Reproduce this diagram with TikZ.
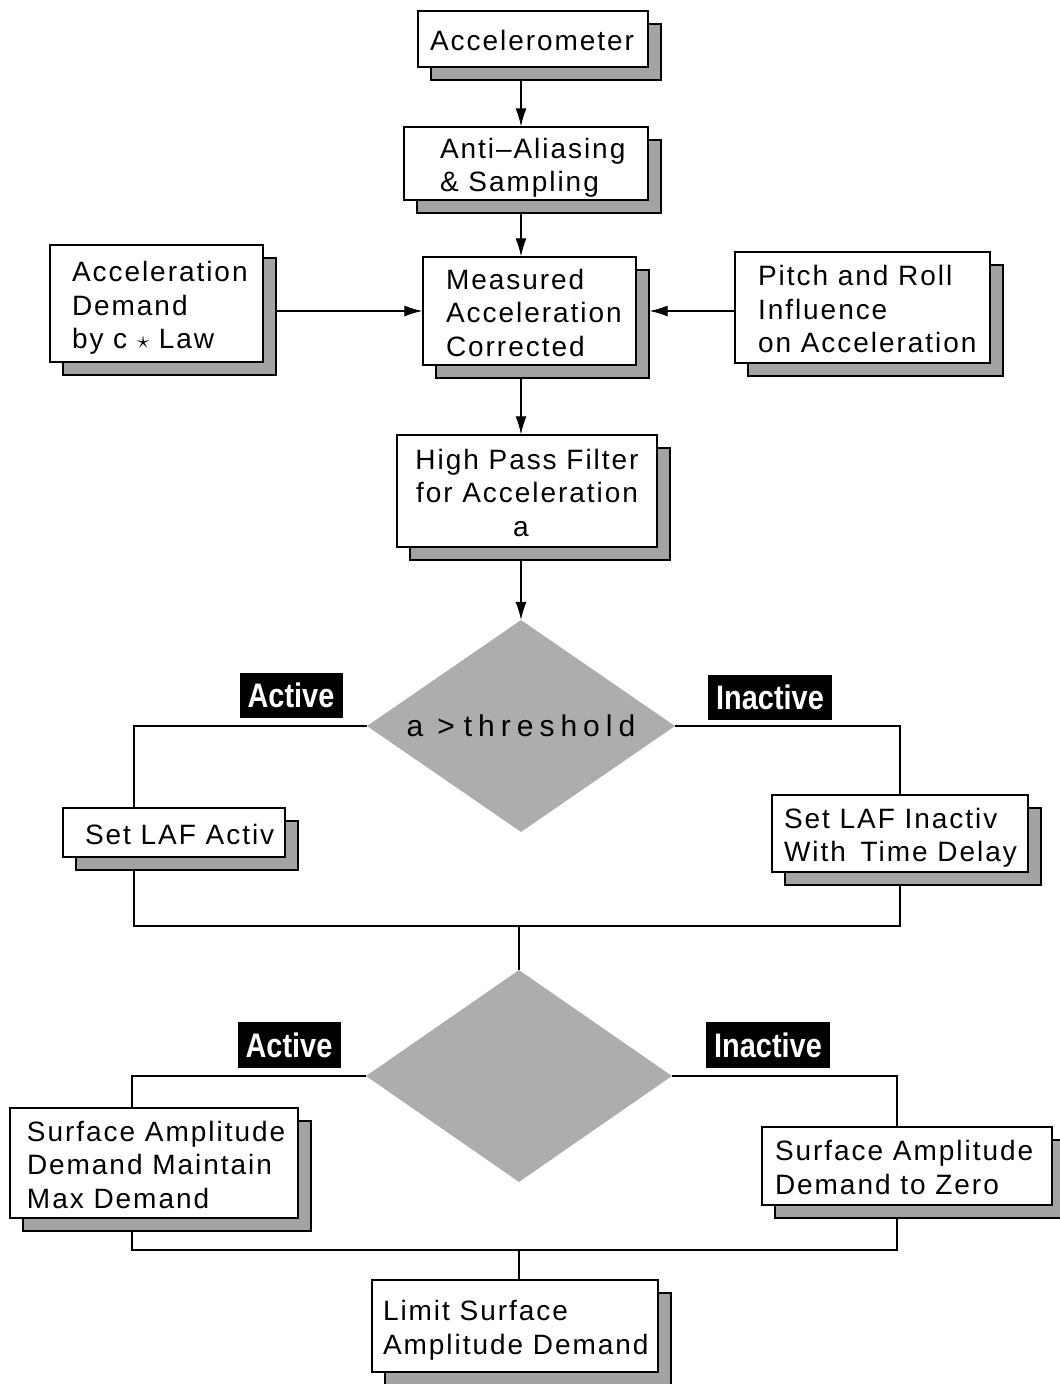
\documentclass[tikz,border=0pt]{standalone}
\usepackage{fontspec}
\setmainfont{Liberation Sans}[LetterSpace=7]
\newfontfamily\tagfont{Liberation Sans}[FakeStretch=0.85]
\usetikzlibrary{shapes.geometric,arrows.meta,shadows}
\pgfdeclarelayer{back}
\pgfsetlayers{back,main}
% box contents: fixed width, left text with indent / centred text,
% drawn a little lower than the strut-centred position
\newcommand{\lbox}[3]{\raisebox{-5pt}[\height][\depth]{\makebox[#1pt][l]{\hspace*{#2pt}\begin{tabular}{@{}l@{}}#3\end{tabular}}}}
\newcommand{\cbox}[2]{\raisebox{-5pt}[\height][\depth]{\makebox[#1pt][c]{\begin{tabular}{@{}c@{}}#2\end{tabular}}}}
\tikzset{
  blk/.style={draw, line width=1.4pt, fill=white, inner sep=0pt,
    general shadow={fill=black!36, draw=black, line width=1.2pt,
      shadow xshift=13pt, shadow yshift=-13pt}},
  dec/.style={diamond, aspect=1.45, fill=black!32, inner sep=0pt},
  tag/.style={fill=black, text=white, inner sep=0pt,
    font=\tagfont\bfseries\fontsize{34}{34}\selectfont},
  wire/.style={line width=1.2pt},
  flow/.style={wire, -{Latex[length=18pt,width=11pt]}},
}
\begin{document}
\begin{tikzpicture}[x=1pt, y=-1pt, font=\fontsize{28}{33.5}\selectfont]
\useasboundingbox (0,0) rectangle (1060,1384);

% processing chain
\node[blk, minimum height=56pt] (acc) at (533,39) {\lbox{230}{12}{Accelerometer}};
\node[blk, minimum height=73pt] (aa) at (526,163.5) {\lbox{244}{36}{Anti--Aliasing\\\& Sampling}};
\node[blk, minimum height=108pt] (meas) at (529.5,311) {\lbox{213}{23}{Measured\\Acceleration\\Corrected}};
\node[blk, minimum height=117pt] (dem) at (156.5,303.5) {\lbox{213}{22}{Acceleration\\Demand\\by c $\star$ Law}};
\node[blk, minimum height=111pt] (pitch) at (862.5,307.5) {\lbox{255}{23}{Pitch and Roll\\Influence\\on Acceleration}};
\node[blk, minimum height=112pt] (hp) at (527,491) {\cbox{260}{High Pass Filter\\for Acceleration\\a\hspace*{12pt}}};

% first decision
\node[dec, minimum width=308pt, minimum height=212pt,
  font=\fontsize{30}{32}\selectfont\addfontfeature{LetterSpace=20}] (d1) at (521,726) {a\hspace{14pt}>\hspace{9pt}threshold};
\node[tag, minimum width=103pt, minimum height=45pt] (ta1) at (291,695) {Active};
\node[tag, minimum width=124pt, minimum height=45pt] (ti1) at (770,697) {Inactive};
\node[blk, minimum height=49pt] (laf) at (174,832.5) {\lbox{222}{22}{Set LAF Activ}};
\node[blk, minimum height=77pt] (inact) at (900,833.5) {\lbox{256}{12}{Set LAF Inactiv\\With\hspace{5pt} Time Delay}};

% second decision
\node[dec, minimum width=306pt, minimum height=212pt] (d2) at (519,1076) {};
\node[tag, minimum width=103pt, minimum height=46pt] (ta2) at (289,1045) {Active};
\node[tag, minimum width=124pt, minimum height=46pt] (ti2) at (768,1045) {Inactive};
\node[blk, minimum height=110pt] (smax) at (154,1163) {\lbox{288}{17}{Surface Amplitude\\Demand Maintain\\Max Demand}};
\node[blk, minimum height=78pt] (szero) at (907,1166) {\lbox{290}{13}{Surface Amplitude\\Demand to Zero}};
\node[blk, minimum height=92pt] (lim) at (515,1326) {\lbox{286}{11}{Limit Surface\\Amplitude Demand}};

% branch corners
\coordinate (l1) at (134,726);
\coordinate (j1) at (134,926);
\coordinate (k1) at (900,926);
\coordinate (l2) at (132,1076);
\coordinate (r2) at (897,1076);
\coordinate (j2) at (132,1250);
\coordinate (k2) at (897,1250);

\begin{pgfonlayer}{back}
\draw[flow] (acc.south -| d1.north) -- (aa.north -| d1.north);
\draw[flow] (aa.south -| d1.north) -- (meas.north -| d1.north);
\draw[flow] (meas.south -| d1.north) -- (hp.north -| d1.north);
\draw[flow] (hp.south -| d1.north) -- (d1.north);
\draw[flow] (dem.east |- meas.west) -- (meas.west);
\draw[flow] (pitch.west |- meas.east) -- ([xshift=13pt]meas.east);

\draw[wire] (d1.west) -- (l1) -- (l1 |- laf.north);
\draw[wire] (d1.east) -| (inact.north);
\draw[wire] (l1 |- laf.south) -- (j1) -- (k1) -- (inact.south);
\draw[wire] (j1 -| d2.north) -- (d2.north);

\draw[wire] (d2.west) -- (l2) -- (l2 |- smax.north);
\draw[wire] (d2.east) -- (r2) -- (r2 |- szero.north);
\draw[wire] (l2 |- smax.south) -- (j2) -- (k2) -- (r2 |- szero.south);
\draw[wire] (j2 -| d2.south) -- (lim.north -| d2.south);
\end{pgfonlayer}
\end{tikzpicture}
\end{document}
